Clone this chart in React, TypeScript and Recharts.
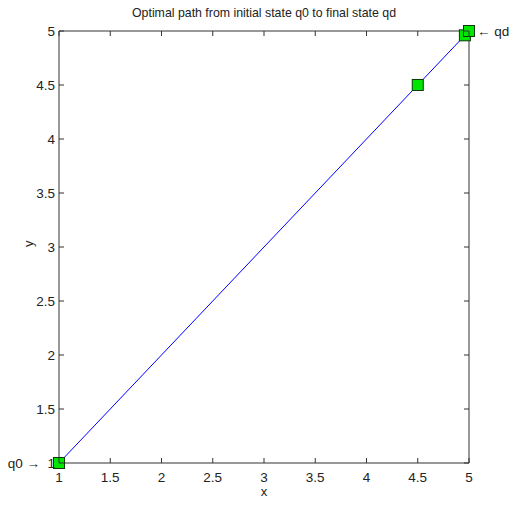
import React from 'react';
import { ComposedChart, Scatter, XAxis, YAxis } from 'recharts';

const pathX = [1, 4.5, 4.96, 5];
const pathY = [1, 4.5, 4.96, 5];
const xTicks = [1, 1.5, 2, 2.5, 3, 3.5, 4, 4.5, 5];
const yTicks = [1, 1.5, 2, 2.5, 3, 3.5, 4, 4.5, 5];
const annotX = [1, 5];
const annotY = [1, 5];
const annotText = ['q0 \u2192', '\u2190 qd'];
const titleText = 'Optimal path from initial state q0 to final state qd';

const pathData = pathX.map((x, i) => ({ x, y: pathY[i] }));
const annotData = annotX.map((x, i) => ({ x, y: annotY[i], text: annotText[i] }));

const FONT = "'Liberation Sans', Arial, sans-serif";
const TXT = '#222';
const AX = '#333';
const TL = 5;

const fmt = (v: number) => String(v);

const BottomTick = (p: any) => (
  <g>
    <line x1={p.x} x2={p.x} y1={p.y} y2={p.y - TL} stroke={AX} />
    <text x={p.x} y={p.y + 19} textAnchor="middle" fontSize={13.5} fill={TXT} fontFamily={FONT}>
      {fmt(p.payload.value)}
    </text>
  </g>
);
const TopTick = (p: any) => (
  <line x1={p.x} x2={p.x} y1={p.y} y2={p.y + TL} stroke={AX} />
);
const LeftTick = (p: any) => (
  <g>
    <line x1={p.x} x2={p.x + TL} y1={p.y} y2={p.y} stroke={AX} />
    <text x={p.x - 4} y={p.y + 5} textAnchor="end" fontSize={13.5} fill={TXT} fontFamily={FONT}>
      {fmt(p.payload.value)}
    </text>
  </g>
);
const RightTick = (p: any) => (
  <line x1={p.x} x2={p.x - TL} y1={p.y} y2={p.y} stroke={AX} />
);

const TitleLabel = (p: any) => {
  const vb = p.viewBox || {};
  const cx = (vb.x || 0) + (vb.width || 0) / 2;
  return (
    <text
      x={cx}
      y={(vb.y || 0) - 13}
      textAnchor="middle"
      fontSize={13}
      fill={TXT}
      fontFamily={FONT}
      textLength={264}
      lengthAdjust="spacingAndGlyphs"
    >
      {titleText}
    </text>
  );
};

const SquareShape = (p: any) => {
  const s = 11;
  return (
    <rect x={p.cx - s / 2} y={p.cy - s / 2} width={s} height={s} fill="#00e600" stroke="#0a3a0a" strokeWidth={1} />
  );
};

const AnnotShape = (p: any) => {
  const isLeft = p.payload.x === annotX[0];
  return (
    <text
      x={isLeft ? p.cx - 19 : p.cx + 8}
      y={p.cy + 5}
      textAnchor={isLeft ? 'end' : 'start'}
      fontSize={13.5}
      fill={TXT}
      fontFamily={FONT}
    >
      {p.payload.text}
    </text>
  );
};

export default function App() {
  return (
    <div style={{ position: 'absolute', left: 0, top: 0, width: 511, height: 508, background: '#fff' }}>
      <ComposedChart
        width={511}
        height={508}
        margin={{ top: 30, right: 41, bottom: 0, left: 9 }}
        style={{ fontFamily: FONT }}
      >
        <XAxis
          xAxisId="b"
          type="number"
          dataKey="x"
          domain={[1, 5]}
          ticks={xTicks}
          height={45}
          stroke={AX}
          tickSize={0}
          tickMargin={0}
          tickLine={false}
          tick={<BottomTick />}
          interval={0}
          label={{ value: 'x', position: 'insideBottom', offset: 12, fill: TXT, fontSize: 13, fontFamily: FONT }}
        />
        <XAxis
          xAxisId="t"
          orientation="top"
          type="number"
          dataKey="x"
          domain={[1, 5]}
          ticks={xTicks}
          height={1}
          stroke={AX}
          tickSize={0}
          tickMargin={0}
          tickLine={false}
          tick={<TopTick />}
          interval={0}
          label={<TitleLabel />}
        />
        <YAxis
          yAxisId="l"
          type="number"
          dataKey="y"
          domain={[1, 5]}
          ticks={yTicks}
          width={50}
          stroke={AX}
          tickSize={0}
          tickMargin={0}
          tickLine={false}
          tick={<LeftTick />}
          interval={0}
          label={{ value: 'y', angle: -90, position: 'insideLeft', offset: 19, fill: TXT, fontSize: 13, fontFamily: FONT }}
        />
        <YAxis
          yAxisId="r"
          orientation="right"
          type="number"
          dataKey="y"
          domain={[1, 5]}
          ticks={yTicks}
          width={1}
          stroke={AX}
          tickSize={0}
          tickMargin={0}
          tickLine={false}
          tick={<RightTick />}
          interval={0}
        />
        <Scatter
          xAxisId="b"
          yAxisId="l"
          data={pathData}
          line={{ stroke: '#0000ff', strokeWidth: 1 }}
          lineType="joint"
          shape={<SquareShape />}
          isAnimationActive={false}
        />
        <Scatter
          xAxisId="t"
          yAxisId="r"
          data={annotData}
          shape={<AnnotShape />}
          isAnimationActive={false}
        />
      </ComposedChart>
    </div>
  );
}
